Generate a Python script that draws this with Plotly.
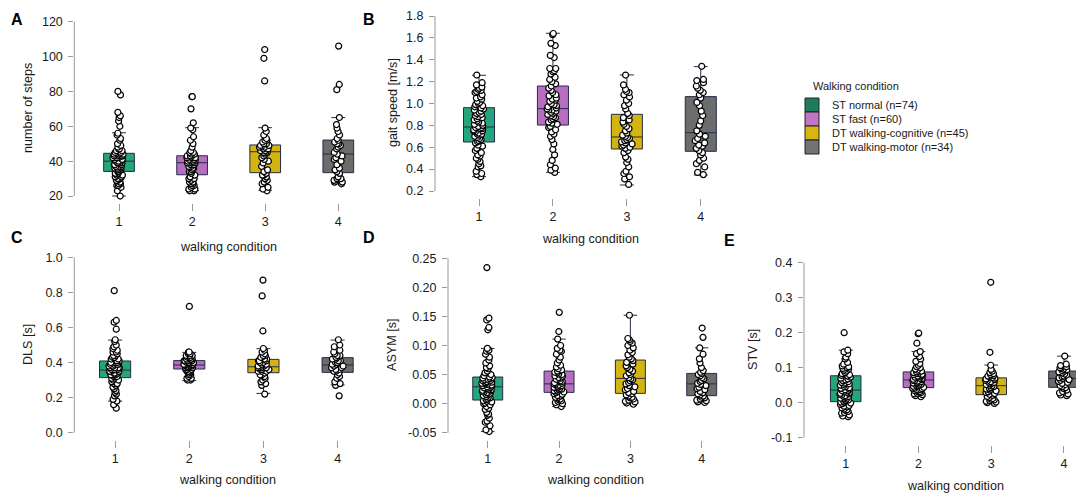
import plotly.graph_objects as go

W, H = 1084, 498          # browser window
OFF = 8                   # default body margin of the html page
FW, FH = W - OFF, H - OFF # figure size so nothing overflows

# ---------------- data ----------------
conditions = [1, 2, 3, 4]
tick_text_x = ["1", "2", "3", "4"]
condition_names = ["ST normal (n=74)", "ST fast (n=60)",
                   "DT walking-cognitive (n=45)", "DT walking-motor (n=34)"]
box_fill = ["#25a57b", "#b86ec0", "#d3b512", "#6c6c6c"]
legend_fill = ["#1e7b5d", "#c075c8", "#d5b70e", "#737373"]

# Panel A: number of steps
steps_q1 = [34.1, 32.2, 33.4, 33.4]
steps_median = [40.0, 39.1, 45.4, 44.1]
steps_q3 = [44.5, 43.1, 49.3, 52.1]
steps_lower = [20.0, 23.1, 23.3, 27.0]
steps_upper = [56.3, 59.2, 59.2, 65.0]
steps_c1 = [20, 23, 25, 26, 26, 27, 27, 28, 29, 29, 30, 30, 31, 31, 32, 32, 33, 33,
            34, 34, 35, 35, 35, 36, 36, 36, 37, 37, 37, 38, 38, 38, 39, 39, 39, 40, 40,
            40, 41, 41, 41, 42, 42, 42, 42, 43, 43, 43, 43, 44, 44, 44, 44, 44, 45,
            45, 46, 46, 47, 47, 48, 49, 50, 52, 53, 55, 56, 60, 63, 65, 66, 68, 78, 80]
steps_c2 = [23, 23, 24, 24, 25, 26, 26, 27, 27, 28, 28, 29, 30, 30, 31,
            32, 33, 34, 34, 35, 36, 36, 37, 37, 38, 38, 38, 39, 39, 39,
            39, 40, 40, 40, 41, 41, 41, 42, 42, 42, 42, 43, 43, 43, 43,
            44, 44, 45, 45, 46, 48, 50, 52, 54, 58, 59, 62, 70, 77, 77]
steps_c3 = [23, 24, 25, 27, 28, 29, 30, 31, 32, 32, 33,
            34, 35, 37, 39, 40, 41, 42, 43, 44, 45, 45,
            45, 46, 46, 47, 47, 48, 48, 48, 49, 49, 49,
            50, 50, 51, 52, 52, 53, 55, 57, 59, 86, 99, 104]
steps_c4 = [27, 28, 28, 29, 30, 30, 31, 33,
            34, 35, 36, 38, 40, 41, 42, 43, 44,
            45, 47, 48, 49, 50, 50, 51, 52,
            53, 55, 57, 59, 61, 65, 81, 84, 106]
steps_ticks = [20, 40, 60, 80, 100, 120]
steps_ticktext = ["20", "40", "60", "80", "100", "120"]

# Panel B: gait speed
speed_q1 = [0.648, 0.803, 0.584, 0.563]
speed_median = [0.785, 0.953, 0.694, 0.733]
speed_q3 = [0.962, 1.160, 0.901, 1.063]
speed_lower = [0.331, 0.371, 0.255, 0.346]
speed_upper = [1.258, 1.642, 1.261, 1.337]
speed_c1 = [0.33, 0.35, 0.36, 0.38, 0.42, 0.43, 0.45, 0.47, 0.49, 0.50, 0.52, 0.53, 0.55, 0.57, 0.59, 0.61, 0.62, 0.64,
            0.65, 0.66, 0.67, 0.68, 0.69, 0.70, 0.71, 0.72, 0.72, 0.73, 0.74, 0.75, 0.75, 0.76, 0.77, 0.77, 0.78, 0.78, 0.78,
            0.79, 0.80, 0.81, 0.82, 0.83, 0.84, 0.85, 0.86, 0.87, 0.88, 0.89, 0.90, 0.91, 0.92, 0.93, 0.94, 0.95, 0.96,
            0.97, 0.98, 0.99, 1.00, 1.01, 1.02, 1.04, 1.05, 1.06, 1.08, 1.10, 1.11, 1.12, 1.13, 1.14, 1.15, 1.17, 1.19, 1.26]
speed_c2 = [0.37, 0.39, 0.41, 0.44, 0.48, 0.53, 0.58, 0.63, 0.67, 0.70, 0.72, 0.74, 0.76, 0.78, 0.79,
            0.81, 0.82, 0.83, 0.85, 0.86, 0.87, 0.88, 0.89, 0.90, 0.91, 0.92, 0.93, 0.94, 0.94, 0.95,
            0.96, 0.97, 0.98, 0.99, 1.00, 1.02, 1.03, 1.04, 1.05, 1.07, 1.08, 1.10, 1.12, 1.14, 1.16,
            1.18, 1.20, 1.22, 1.24, 1.27, 1.29, 1.30, 1.32, 1.32, 1.42, 1.44, 1.53, 1.55, 1.63, 1.64]
speed_c3 = [0.26, 0.31, 0.33, 0.36, 0.38, 0.42, 0.46, 0.49, 0.51, 0.55, 0.57,
            0.59, 0.60, 0.61, 0.62, 0.63, 0.64, 0.65, 0.66, 0.67, 0.68, 0.69,
            0.70, 0.71, 0.73, 0.75, 0.77, 0.79, 0.81, 0.83, 0.85, 0.87, 0.89,
            0.91, 0.95, 0.98, 1.00, 1.03, 1.06, 1.08, 1.10, 1.11, 1.13, 1.17, 1.26]
speed_c4 = [0.35, 0.37, 0.42, 0.45, 0.48, 0.50, 0.53, 0.55,
            0.57, 0.59, 0.61, 0.62, 0.64, 0.66, 0.68, 0.70, 0.72,
            0.75, 0.80, 0.84, 0.89, 0.93, 0.98, 1.01, 1.05,
            1.08, 1.10, 1.12, 1.14, 1.16, 1.19, 1.21, 1.22, 1.34]
speed_ticks = [0.2, 0.4, 0.6, 0.8, 1.0, 1.2, 1.4, 1.6, 1.8]
speed_ticktext = ["0.2", "0.4", "0.6", "0.8", "1.0", "1.2", "1.4", "1.6", "1.8"]

# Panel C: DLS
dls_q1 = [0.314, 0.363, 0.342, 0.344]
dls_median = [0.357, 0.386, 0.376, 0.386]
dls_q3 = [0.409, 0.411, 0.418, 0.428]
dls_lower = [0.180, 0.297, 0.224, 0.272]
dls_upper = [0.528, 0.458, 0.479, 0.528]
dls_c1 = [0.14, 0.16, 0.18, 0.19, 0.21, 0.22, 0.23, 0.24, 0.25, 0.26, 0.27, 0.28, 0.28, 0.29, 0.30, 0.30, 0.31, 0.31,
          0.32, 0.32, 0.32, 0.33, 0.33, 0.33, 0.34, 0.34, 0.34, 0.34, 0.35, 0.35, 0.35, 0.35, 0.35, 0.36, 0.36, 0.36, 0.36,
          0.36, 0.37, 0.37, 0.37, 0.37, 0.38, 0.38, 0.38, 0.39, 0.39, 0.39, 0.39, 0.40, 0.40, 0.40, 0.40, 0.41, 0.41,
          0.42, 0.42, 0.43, 0.43, 0.44, 0.44, 0.45, 0.46, 0.46, 0.47, 0.48, 0.49, 0.50, 0.52, 0.53, 0.59, 0.63, 0.64, 0.81]
dls_c2 = [0.30, 0.30, 0.31, 0.31, 0.32, 0.33, 0.33, 0.34, 0.34, 0.35, 0.35, 0.35, 0.36, 0.36, 0.36,
          0.37, 0.37, 0.37, 0.37, 0.38, 0.38, 0.38, 0.38, 0.38, 0.38, 0.38, 0.39, 0.39, 0.39, 0.39,
          0.39, 0.39, 0.39, 0.40, 0.40, 0.40, 0.40, 0.40, 0.40, 0.41, 0.41, 0.41, 0.41, 0.41, 0.41,
          0.42, 0.42, 0.42, 0.42, 0.43, 0.43, 0.43, 0.44, 0.44, 0.44, 0.45, 0.45, 0.46, 0.46, 0.72]
dls_c3 = [0.22, 0.27, 0.28, 0.29, 0.30, 0.31, 0.32, 0.32, 0.33, 0.33, 0.34,
          0.35, 0.35, 0.35, 0.36, 0.36, 0.36, 0.37, 0.37, 0.37, 0.37, 0.38,
          0.38, 0.38, 0.39, 0.39, 0.39, 0.40, 0.40, 0.41, 0.41, 0.41, 0.42,
          0.42, 0.43, 0.43, 0.44, 0.44, 0.45, 0.46, 0.47, 0.48, 0.58, 0.78, 0.87]
dls_c4 = [0.21, 0.27, 0.28, 0.29, 0.31, 0.32, 0.33, 0.34,
          0.35, 0.35, 0.36, 0.36, 0.37, 0.37, 0.38, 0.38, 0.39,
          0.39, 0.40, 0.40, 0.41, 0.41, 0.42, 0.42, 0.43,
          0.43, 0.44, 0.44, 0.45, 0.46, 0.47, 0.49, 0.50, 0.53]
dls_ticks = [0.0, 0.2, 0.4, 0.6, 0.8, 1.0]
dls_ticktext = ["0.0", "0.2", "0.4", "0.6", "0.8", "1.0"]

# Panel D: ASYM
asym_q1 = [0.0062, 0.0194, 0.0177, 0.0137]
asym_median = [0.029, 0.034, 0.0435, 0.034]
asym_q3 = [0.0458, 0.056, 0.075, 0.052]
asym_lower = [-0.048, -0.005, -0.001, 0.002]
asym_upper = [0.095, 0.111, 0.152, 0.096]
asym_c1 = [-0.048, -0.045, -0.038, -0.032, -0.030, -0.025, -0.020, -0.018, -0.015, -0.010, -0.008, -0.005, -0.002, 0.000, 0.001, 0.003, 0.004, 0.005,
           0.007, 0.008, 0.010, 0.011, 0.012, 0.014, 0.015, 0.016, 0.018, 0.019, 0.020, 0.021, 0.022, 0.023, 0.024, 0.025, 0.026, 0.027, 0.028,
           0.029, 0.030, 0.031, 0.032, 0.033, 0.034, 0.035, 0.036, 0.037, 0.038, 0.039, 0.040, 0.041, 0.042, 0.043, 0.044, 0.045, 0.046,
           0.048, 0.050, 0.053, 0.056, 0.060, 0.062, 0.065, 0.070, 0.075, 0.080, 0.085, 0.090, 0.092, 0.095, 0.127, 0.131, 0.144, 0.147, 0.234]
asym_c2 = [-0.005, -0.002, 0.000, 0.002, 0.004, 0.005, 0.007, 0.008, 0.010, 0.011, 0.013, 0.014, 0.016, 0.017, 0.019,
           0.020, 0.021, 0.022, 0.023, 0.024, 0.025, 0.026, 0.027, 0.028, 0.029, 0.030, 0.031, 0.032, 0.033, 0.034,
           0.035, 0.036, 0.038, 0.039, 0.041, 0.042, 0.044, 0.045, 0.047, 0.048, 0.050, 0.051, 0.053, 0.054, 0.056,
           0.058, 0.060, 0.063, 0.066, 0.070, 0.075, 0.080, 0.085, 0.090, 0.092, 0.095, 0.100, 0.111, 0.124, 0.157]
asym_c3 = [-0.001, 0.001, 0.003, 0.004, 0.006, 0.008, 0.010, 0.011, 0.013, 0.015, 0.017,
           0.019, 0.021, 0.024, 0.026, 0.029, 0.031, 0.034, 0.036, 0.039, 0.041, 0.043,
           0.045, 0.048, 0.050, 0.053, 0.056, 0.059, 0.062, 0.065, 0.068, 0.071, 0.074,
           0.077, 0.080, 0.084, 0.088, 0.092, 0.096, 0.100, 0.104, 0.107, 0.110, 0.112, 0.152]
asym_c4 = [0.002, 0.003, 0.005, 0.006, 0.008, 0.010, 0.011, 0.013,
           0.015, 0.017, 0.019, 0.021, 0.024, 0.026, 0.028, 0.031, 0.033,
           0.035, 0.038, 0.040, 0.043, 0.045, 0.048, 0.050, 0.052,
           0.054, 0.057, 0.062, 0.070, 0.077, 0.085, 0.096, 0.114, 0.130]
asym_ticks = [-0.05, 0.0, 0.05, 0.10, 0.15, 0.20, 0.25]
asym_ticktext = ["-0.05", "0.00", "0.05", "0.10", "0.15", "0.20", "0.25"]

# Panel E: STV
stv_q1 = [0.003, 0.043, 0.023, 0.0438]
stv_median = [0.036, 0.065, 0.0486, 0.0695]
stv_q3 = [0.077, 0.088, 0.071, 0.0905]
stv_lower = [-0.040, 0.017, -0.002, 0.020]
stv_upper = [0.150, 0.146, 0.1076, 0.133]
stv_c1 = [-0.040, -0.038, -0.035, -0.030, -0.028, -0.025, -0.022, -0.020, -0.018, -0.015, -0.012, -0.010, -0.008, -0.005, -0.003, -0.001, 0.001, 0.002,
          0.004, 0.006, 0.008, 0.010, 0.011, 0.013, 0.015, 0.017, 0.018, 0.020, 0.022, 0.024, 0.025, 0.027, 0.029, 0.030, 0.032, 0.034, 0.035,
          0.037, 0.039, 0.041, 0.043, 0.045, 0.047, 0.050, 0.052, 0.054, 0.056, 0.058, 0.060, 0.063, 0.065, 0.068, 0.070, 0.073, 0.076,
          0.078, 0.080, 0.083, 0.086, 0.090, 0.093, 0.096, 0.098, 0.100, 0.103, 0.105, 0.110, 0.115, 0.125, 0.130, 0.140, 0.145, 0.150, 0.200]
stv_c2 = [0.017, 0.020, 0.023, 0.025, 0.027, 0.029, 0.031, 0.032, 0.034, 0.035, 0.037, 0.038, 0.040, 0.041, 0.042,
          0.044, 0.046, 0.047, 0.049, 0.050, 0.052, 0.053, 0.055, 0.056, 0.058, 0.059, 0.060, 0.062, 0.063, 0.064,
          0.066, 0.067, 0.069, 0.070, 0.072, 0.073, 0.075, 0.076, 0.078, 0.080, 0.081, 0.083, 0.084, 0.086, 0.088,
          0.090, 0.093, 0.096, 0.100, 0.103, 0.107, 0.112, 0.118, 0.125, 0.132, 0.140, 0.146, 0.170, 0.197, 0.199]
stv_c3 = [-0.002, 0.000, 0.002, 0.004, 0.006, 0.008, 0.010, 0.012, 0.015, 0.018, 0.021,
          0.024, 0.026, 0.029, 0.031, 0.034, 0.036, 0.039, 0.041, 0.043, 0.046, 0.048,
          0.050, 0.052, 0.054, 0.056, 0.058, 0.060, 0.062, 0.064, 0.066, 0.068, 0.070,
          0.072, 0.074, 0.076, 0.078, 0.080, 0.083, 0.086, 0.090, 0.095, 0.107, 0.144, 0.344]
stv_c4 = [0.020, 0.022, 0.025, 0.028, 0.032, 0.036, 0.040, 0.043,
          0.046, 0.049, 0.052, 0.055, 0.058, 0.061, 0.064, 0.066, 0.069,
          0.071, 0.074, 0.076, 0.079, 0.082, 0.085, 0.088, 0.090,
          0.092, 0.094, 0.096, 0.098, 0.100, 0.103, 0.106, 0.110, 0.133]
stv_ticks = [-0.1, 0.0, 0.1, 0.2, 0.3, 0.4]
stv_ticktext = ["-0.1", "0.0", "0.1", "0.2", "0.3", "0.4"]

# ---------------- layout helpers (screen pixels -> paper) ----------------
def px(x):
    return (x - OFF) / FW

def py(y):
    return 1 - (y - OFF) / FH

FONT = "Liberation Sans, Arial, Helvetica, sans-serif"
AXIS_GREY = "#9a9a9a"
BOX_LINE = "#262b48"
TXT = "#1a1a1a"

panels = [
    dict(letter="A", title="number of steps", q1=steps_q1, med=steps_median, q3=steps_q3,
         lo=steps_lower, hi=steps_upper, pts=[steps_c1, steps_c2, steps_c3, steps_c4],
         ticks=steps_ticks, ticktext=steps_ticktext,
         xdom=(74.3, 375), xr=(0.3885, 4.502), ydom=(203, 14.7), yr=(16, 124),
         letter_xy=(17, 19), ytitle_xy=(28, 108), xtitle_xy=(228, 247)),
    dict(letter="B", title="gait speed [m/s]", q1=speed_q1, med=speed_median, q3=speed_q3,
         lo=speed_lower, hi=speed_upper, pts=[speed_c1, speed_c2, speed_c3, speed_c4],
         ticks=speed_ticks, ticktext=speed_ticktext,
         xdom=(435.0, 737), xr=(0.4046, 4.49), ydom=(198, 9), yr=(0.136, 1.864),
         letter_xy=(369, 19), ytitle_xy=(393, 103), xtitle_xy=(590, 239)),
    dict(letter="C", title="DLS [s]", q1=dls_q1, med=dls_median, q3=dls_q3,
         lo=dls_lower, hi=dls_upper, pts=[dls_c1, dls_c2, dls_c3, dls_c4],
         ticks=dls_ticks, ticktext=dls_ticktext,
         xdom=(74.3, 375), xr=(0.45, 4.504), ydom=(439.7, 250.3), yr=(-0.04, 1.04),
         letter_xy=(17, 237), ytitle_xy=(28, 345), xtitle_xy=(227, 480)),
    dict(letter="D", title="ASYM [s]", q1=asym_q1, med=asym_median, q3=asym_q3,
         lo=asym_lower, hi=asym_upper, pts=[asym_c1, asym_c2, asym_c3, asym_c4],
         ticks=asym_ticks, ticktext=asym_ticktext,
         xdom=(448.0, 737), xr=(0.443, 4.495), ydom=(439.7, 251.3), yr=(-0.062, 0.262),
         letter_xy=(369, 237), ytitle_xy=(392, 345), xtitle_xy=(595, 480)),
    dict(letter="E", title="STV [s]", q1=stv_q1, med=stv_median, q3=stv_q3,
         lo=stv_lower, hi=stv_upper, pts=[stv_c1, stv_c2, stv_c3, stv_c4],
         ticks=stv_ticks, ticktext=stv_ticktext,
         xdom=(804.0, 1084), xr=(0.427, 4.275), ydom=(444.7, 255.7), yr=(-0.12, 0.42),
         letter_xy=(729, 241), ytitle_xy=(753, 350), xtitle_xy=(955, 486)),
]

fig = go.Figure()
annotations = []
shapes = []
layout_axes = {}

for i, p in enumerate(panels):
    k = "" if i == 0 else str(i + 1)
    xa, ya = "x" + k, "y" + k
    for g in range(4):
        fig.add_trace(go.Box(
            x=[conditions[g]], q1=[p["q1"][g]], median=[p["med"][g]], q3=[p["q3"][g]],
            lowerfence=[p["lo"][g]], upperfence=[p["hi"][g]],
            width=0.42, whiskerwidth=0.45, boxpoints=False,
            fillcolor=box_fill[g], line=dict(color=BOX_LINE, width=1),
            xaxis=xa, yaxis=ya, showlegend=False, hoverinfo="skip"))
    for g in range(4):
        vals = p["pts"][g]
        fig.add_trace(go.Box(
            x=[conditions[g]] * len(vals), y=vals,
            width=0.42, boxpoints="all", jitter=0.4, pointpos=0,
            fillcolor="rgba(0,0,0,0)", line=dict(color="rgba(0,0,0,0)", width=0),
            marker=dict(color="white", size=6, line=dict(color="black", width=1.2)),
            xaxis=xa, yaxis=ya, showlegend=False, hoverinfo="skip"))

    x0, x1 = p["xdom"]
    yb, yt = p["ydom"]
    layout_axes["xaxis" + k] = dict(
        domain=[px(x0), min(1.0, px(x1))], range=list(p["xr"]), anchor=ya,
        tickmode="array", tickvals=conditions, ticktext=tick_text_x,
        ticks="outside", ticklen=7, tickcolor=AXIS_GREY, tickwidth=1,
        showline=False, showgrid=False, zeroline=False,
        tickfont=dict(family=FONT, size=12.5, color=TXT), fixedrange=True)
    layout_axes["yaxis" + k] = dict(
        domain=[py(yb), py(yt)], range=list(p["yr"]), anchor=xa,
        tickmode="array", tickvals=p["ticks"], ticktext=p["ticktext"],
        ticks="outside", ticklen=5, tickcolor=AXIS_GREY, tickwidth=1,
        showline=False, showgrid=False, zeroline=False, ticklabelstandoff=3,
        tickfont=dict(family=FONT, size=12.5, color=TXT), fixedrange=True)
    # R-style axis line spanning first to last tick
    shapes.append(dict(type="line", xref=xa + " domain", yref=ya,
                       x0=0, x1=0, y0=p["ticks"][0], y1=p["ticks"][-1],
                       line=dict(color=AXIS_GREY, width=1)))
    lx, ly = p["letter_xy"]
    annotations.append(dict(text="<b>%s</b>" % p["letter"], x=px(lx), y=py(ly),
                            xref="paper", yref="paper", showarrow=False,
                            xanchor="center", yanchor="middle",
                            font=dict(family=FONT, size=16, color="black")))
    tx, ty = p["ytitle_xy"]
    annotations.append(dict(text=p["title"], x=px(tx), y=py(ty), textangle=-90,
                            xref="paper", yref="paper", showarrow=False,
                            xanchor="center", yanchor="middle",
                            font=dict(family=FONT, size=12.6, color=TXT)))
    wx, wy = p["xtitle_xy"]
    annotations.append(dict(text="walking condition", x=px(wx), y=py(wy),
                            xref="paper", yref="paper", showarrow=False,
                            xanchor="center", yanchor="middle",
                            font=dict(family=FONT, size=12.6, color=TXT)))

# custom legend (R style)
annotations.append(dict(text="Walking condition", x=px(811), y=py(86),
                        xref="paper", yref="paper", showarrow=False,
                        xanchor="left", yanchor="middle",
                        font=dict(family=FONT, size=11, color=TXT)))
for g in range(4):
    top = 98 + 14 * g
    shapes.append(dict(type="rect", xref="paper", yref="paper",
                       x0=px(805), x1=px(819), y0=py(top + 14), y1=py(top),
                       fillcolor=legend_fill[g], line=dict(color="#222222", width=1)))
    annotations.append(dict(text=condition_names[g], x=px(830), y=py(top + 7),
                            xref="paper", yref="paper", showarrow=False,
                            xanchor="left", yanchor="middle",
                            font=dict(family=FONT, size=11, color=TXT)))

fig.update_layout(
    width=FW, height=FH, margin=dict(l=0, r=0, t=0, b=0),
    paper_bgcolor="white", plot_bgcolor="white",
    boxmode="overlay", showlegend=False,
    font=dict(family=FONT, size=12, color=TXT),
    annotations=annotations, shapes=shapes, **layout_axes)

fig.write_html("out.html")
